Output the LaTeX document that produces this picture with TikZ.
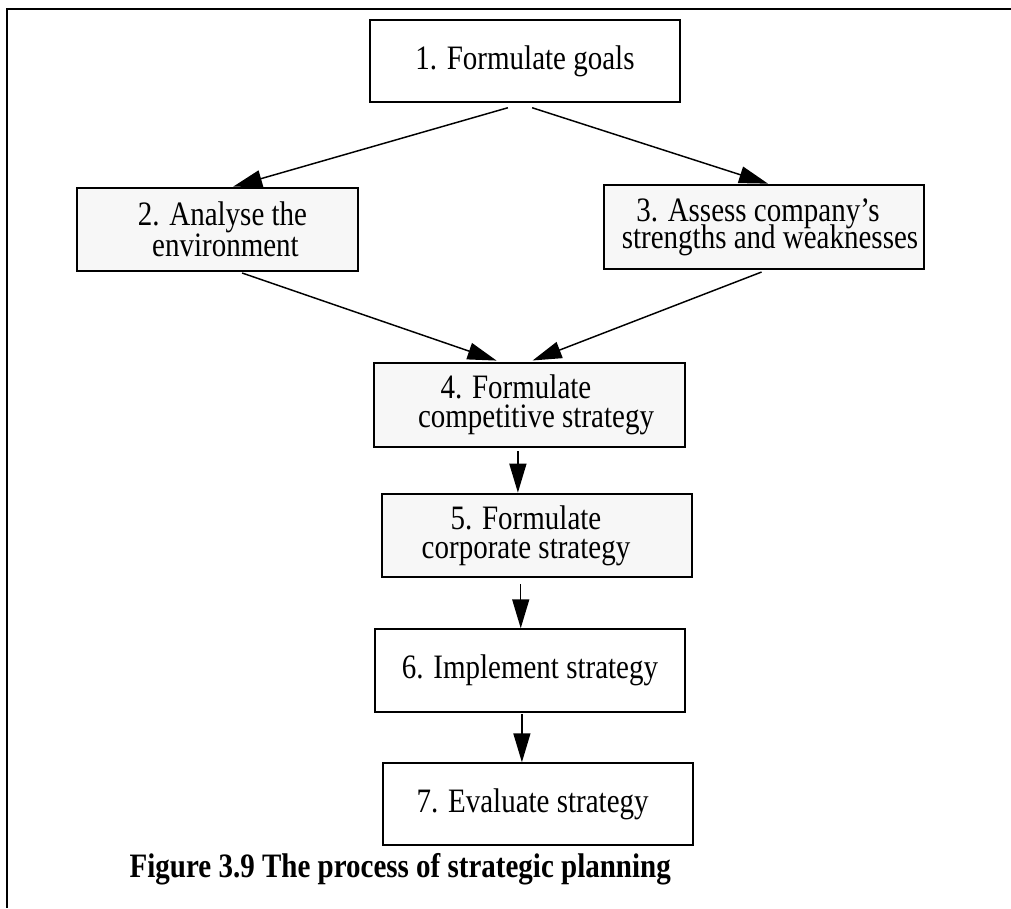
\documentclass[tikz,border=0pt]{standalone}
\usepackage{fontspec}
\setmainfont{Liberation Serif}
\usetikzlibrary{arrows.meta,calc}
\definecolor{boxgrey}{HTML}{F7F7F7}
% glyphs are set slightly taller than the font's natural proportions
\newcommand\tallline[1]{\scalebox{1}[1.18]{#1}}
\begin{document}
\lineskiplimit=-50pt
\begin{tikzpicture}[x=0.75pt,y=-0.75pt,
  sz/.style 2 args={minimum width=#1*0.75pt,minimum height=#2*0.75pt},
  lead/.style={font=\fontsize{21.75}{#1}\selectfont},
  box/.style={draw,line width=1.1pt,fill=white,inner sep=0pt,align=center,lead=21.5},
  keybox/.style={box,line width=2pt,fill=boxgrey},
  arr/.style={line width=1.1pt,-{Triangle[length=21.75pt,width=12.75pt]}},
  frameline/.style={line width=1.4pt}]
\useasboundingbox (0,0) rectangle (1011,908);

% page frame (top and left edges only)
\draw[frameline] (1011,9) -- (7,9) -- (7,908);

% planning steps
\node[box,sz={310}{82}] (n1) at (525,61) {\tallline{1. Formulate goals}};
\node[keybox,sz={281}{83},lead=23.25] (n2) at (217.5,229.5)
  {\hspace*{7.5pt}\tallline{2. Analyse the}\\\hspace*{12pt}\tallline{environment}};
\node[keybox,sz={320}{84},lead=20.5] (n3) at (764,227)
  {\tallline{3. Assess company’s}\hspace*{9pt}\\\hspace*{9pt}\tallline{strengths and weaknesses}};
\node[keybox,sz={311}{84}] (n4) at (529.5,405)
  {\tallline{4. Formulate}\hspace*{20.25pt}\\\hspace*{9.75pt}\tallline{competitive strategy}};
\node[keybox,sz={310}{83}] (n5) at (537,535.5)
  {\tallline{5. Formulate}\hspace*{16.5pt}\\\tallline{corporate strategy}\hspace*{16.5pt}};
\node[box,sz={310}{83}] (n6) at (530,670.5) {\tallline{6. Implement strategy}};
\node[box,sz={310}{82}] (n7) at (538,804) {\tallline{7. Evaluate strategy}\hspace*{8pt}};

% connectors
\draw[arr] ($(n1.south west)!0.445!(n1.south east)+(0,5)$)
  -- ($(n2.north west)!0.555!(n2.north east)$);
\draw[arr] ($(n1.south west)!0.523!(n1.south east)+(0,5)$)
  -- ($(n3.north west)!0.5125!(n3.north east)$);
\draw[arr,shorten <=1.5pt,shorten >=2.5pt] ($(n2.south west)!0.58!(n2.south east)$)
  -- ($(n4.north west)!0.405!(n4.north east)$);
\draw[arr,shorten <=3.5pt,shorten >=2.5pt] ($(n3.south west)!0.506!(n3.south east)$)
  -- ($(n4.north west)!0.5!(n4.north east)$);
\coordinate (s45) at ($(n4.south west)!0.463!(n4.south east)$);
\draw[arr,shorten <=2pt] (s45) -- (s45 |- n5.north);
\coordinate (s56) at ($(n5.south west)!0.448!(n5.south east)$);
\draw[arr,shorten <=4.5pt] (s56) -- (s56 |- n6.north);
\coordinate (s67) at ($(n6.south west)!0.474!(n6.south east)$);
\draw[arr,shorten <=1pt] (s67) -- (s67 |- n7.north);

% caption
\node[anchor=base west,font=\fontsize{21.75}{26}\selectfont\bfseries] (cap)
  at (125,877) {\tallline{Figure 3.9 The process of strategic planning}};
\end{tikzpicture}
\end{document}
